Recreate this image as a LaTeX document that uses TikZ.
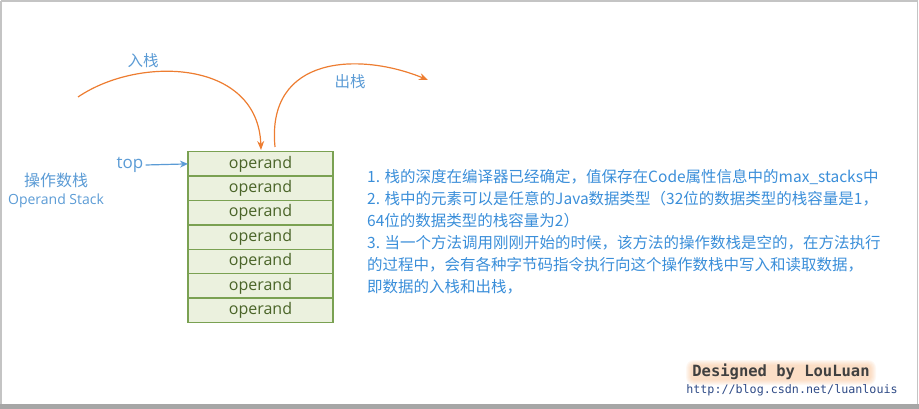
\documentclass[tikz,border=0pt]{standalone}
\usepackage{fontspec}
\setmainfont{Open Sans}
\newfontfamily\cjk{Noto Sans CJK SC}
\newfontfamily\monof{DejaVu Sans Mono}
\usetikzlibrary{arrows.meta}
\definecolor{cellfill}{HTML}{EBF1DE}
\definecolor{cellline}{HTML}{7AA152}
\definecolor{celltext}{HTML}{4A6428}
\definecolor{lblue}{HTML}{5B9BD5}
\definecolor{tblue}{HTML}{3A8ED9}
\definecolor{orng}{HTML}{ED7D31}
\definecolor{glow}{HTML}{F6B27A}
\definecolor{frame}{HTML}{C4C4C4}
\definecolor{urlblue}{HTML}{2E4A86}
\tikzset{
  cell/.style={draw=cellline, fill=cellfill, line width=1.5pt, minimum width=145pt,
    minimum height=24.4pt, inner sep=0pt, outer sep=0pt, text=celltext,
    font=\fontsize{16}{17}\selectfont},
  info/.style={anchor=west, inner sep=0pt, text=tblue, font=\cjk\fontsize{15.5}{17}\selectfont},
  lbl/.style={text=lblue, inner sep=0pt},
  flow/.style={draw=orng, line width=1.2pt, -{Stealth[length=9pt,width=7pt]}},
}
\begin{document}
\begin{tikzpicture}[x=1pt,y=-1pt]
\useasboundingbox (0,0) rectangle (919,409);
% frame
\draw[frame, line width=1.5pt] (1,1) -- (917.5,1) -- (917.5,404) ;
\draw[frame, line width=1.5pt] (1,1) -- (1,404);
\fill[gray!70] (0,403.5) rectangle (919,409);

% stack cells
\foreach \i in {1,...,7}{
  \node[cell] (c\i) at (260.5, {151.7+24.4*(\i-0.5)}) {operand};
}

% labels
\node[lbl, font=\fontsize{17}{18}\selectfont] (top) at (130,165) {top};
\draw[lblue, line width=1.2pt, -{Stealth[length=8pt,width=7pt]}] (top.east) ++(2,0) coordinate (tops) (tops) -- (c1.west);

\node[lbl, font=\cjk\fontsize{16}{18}\selectfont] (ch1) at (56,180) {操作数栈};
\node[lbl, font=\fontsize{14}{15}\selectfont] (en1) at (56,201) {Operand Stack};

\node[lbl, font=\cjk\fontsize{15.5}{17}\selectfont] (push) at (143,61) {入栈};
\node[lbl, font=\cjk\fontsize{15.5}{17}\selectfont] (pop) at (350,82) {出栈};

% push / pop curves
\coordinate (ps) at (78,97);
\coordinate (pe) at (261,150);
\draw[flow] (ps) .. controls (140,55) and (258,60) .. (pe);
\coordinate (qs) at (275,147);
\coordinate (qe) at (428,80);
\draw[flow] (qs) .. controls (266,55) and (360,52) .. (qe);

% info text
\node[info] (t1) at (367,177) {1. 栈的深度在编译器已经确定，值保存在Code属性信息中的max\_stacks中};
\node[info] (t2) at (367,199) {2. 栈中的元素可以是任意的Java数据类型（32位的数据类型的栈容量是1，};
\node[info] (t3) at (367,221) {64位的数据类型的栈容量为2）};
\node[info] (t4) at (367,243) {3. 当一个方法调用刚刚开始的时候，该方法的操作数栈是空的，在方法执行};
\node[info] (t5) at (367,265) {的过程中，会有各种字节码指令执行向这个操作数栈中写入和读取数据，};
\node[info] (t6) at (367,287) {即数据的入栈和出栈，};

% signature glow
\foreach \r [count=\k] in {6,5,4,3,2,1}{
  \fill[glow, opacity=0.09, rounded corners=\r pt+2pt] (692-\r,366-\r) rectangle (870+\r,379+\r);
}
\node[inner sep=0pt, text=black!75, font=\monof\bfseries\fontsize{15.5}{17}\selectfont] (sig) at (781,372) {Designed by LouLuan};
\node[inner sep=0pt, text=urlblue, font=\monof\fontsize{11.7}{13}\selectfont] (url) at (792,390) {http://blog.csdn.net/luanlouis};
\end{tikzpicture}
\end{document}
